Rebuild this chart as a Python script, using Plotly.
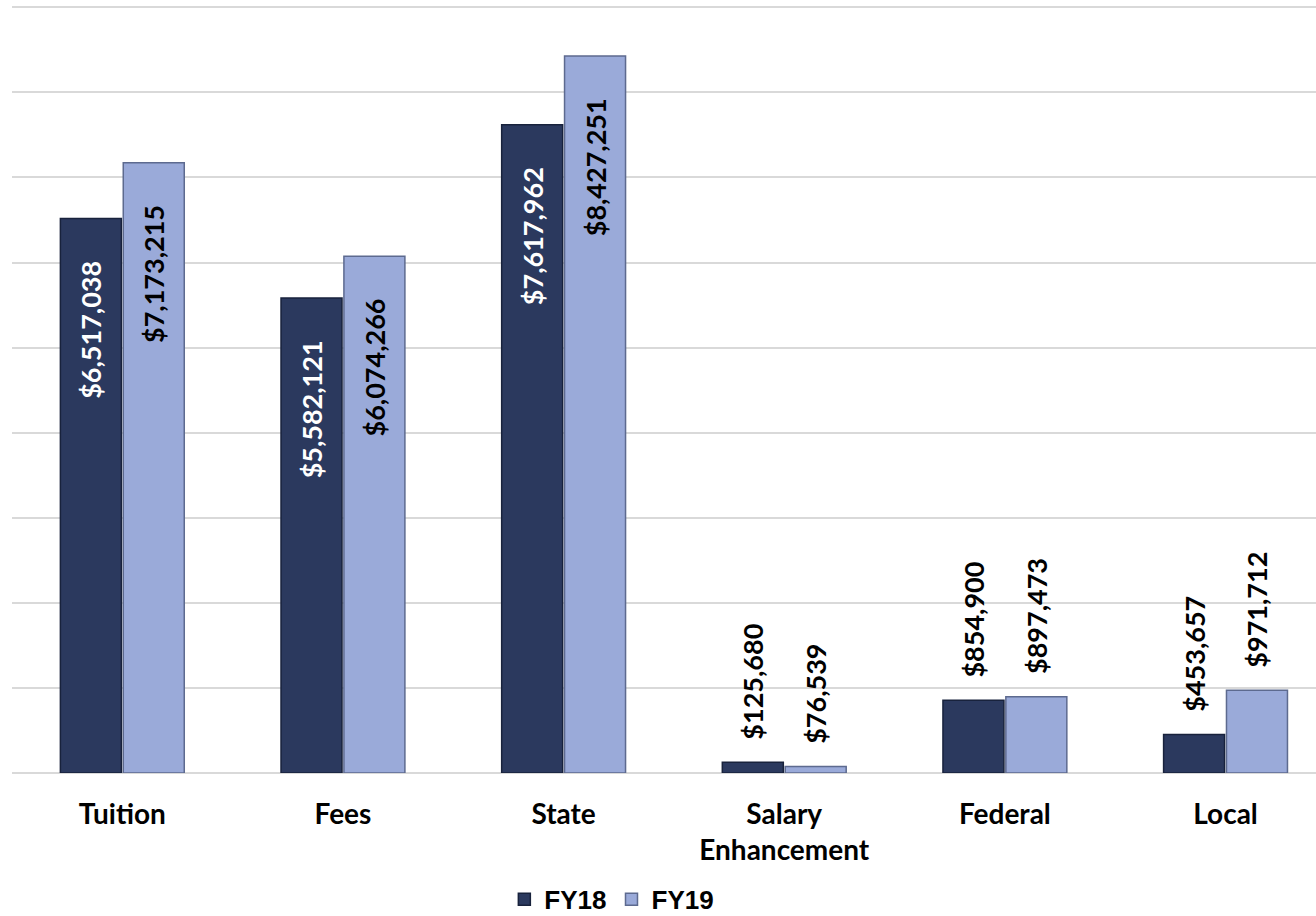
import plotly.graph_objects as go

categories = ["Tuition", "Fees", "State", "Salary<br>Enhancement", "Federal", "Local"]
fy18 = [6517038, 5582121, 7617962, 125680, 854900, 453657]
fy19 = [7173215, 6074266, 8427251, 76539, 897473, 971712]
series_names = ["FY18", "FY19"]

NB = "\u00a0"

def is_inside(v):
    return v > 3000000

def labels(vals):
    # padding with non-breaking spaces mimics Excel's label offsets
    return [f"${v:,}" + NB * 6 if is_inside(v) else NB * 3 + f"${v:,}" for v in vals]

def positions(vals):
    return ["inside" if is_inside(v) else "outside" for v in vals]

def fonts(vals, inside_color):
    return [inside_color if is_inside(v) else "black" for v in vals]

LABEL_FONT = "Lato"
LABEL_SIZE = 27
fig = go.Figure()
fig.add_trace(go.Bar(
    x=categories, y=fy18, name=series_names[0],
    marker=dict(color="#2b395e", line=dict(color="#18223c", width=1.5)),
    text=labels(fy18),
    textposition=positions(fy18), insidetextanchor="end", textangle=-90,
    textfont=dict(family=LABEL_FONT, size=LABEL_SIZE, color=fonts(fy18, "white"), weight="bold"),
    outsidetextfont=dict(family=LABEL_FONT, size=LABEL_SIZE, color="black", weight="bold"),
    cliponaxis=False,
))
fig.add_trace(go.Bar(
    x=categories, y=fy19, name=series_names[1],
    marker=dict(color="#9aaad9", line=dict(color="#5d6a8f", width=1.5)),
    text=labels(fy19),
    textposition=positions(fy19), insidetextanchor="end", textangle=-90,
    textfont=dict(family=LABEL_FONT, size=LABEL_SIZE, color=fonts(fy19, "black"), weight="bold"),
    outsidetextfont=dict(family=LABEL_FONT, size=LABEL_SIZE, color="black", weight="bold"),
    cliponaxis=False,
))

fig.update_layout(
    width=1316, height=916,
    margin=dict(l=12, r=0, t=3, b=143, autoexpand=False),
    paper_bgcolor="white", plot_bgcolor="white",
    barmode="group", bargap=0.43, bargroupgap=0.03,
    showlegend=True,
    legend=dict(orientation="h", x=0.46, xanchor="center", y=-0.164, yanchor="middle",
                font=dict(family="Liberation Sans Narrow, Liberation Sans", size=26, color="black", weight="bold"),
                itemwidth=30, tracegroupgap=0),
    xaxis=dict(range=[-0.5, 5.41], showgrid=False, showline=False, ticks="",
               tickfont=dict(family="Lato", size=28, color="black", weight="bold"),
               ticklabelstandoff=22),
    yaxis=dict(range=[0, 9050000], tick0=0, dtick=1000000, showgrid=True, gridcolor="#d9d9d9", gridwidth=2,
               showticklabels=False, zeroline=True, zerolinecolor="#d9d9d9", zerolinewidth=2, ticks=""),
    uniformtext=dict(minsize=LABEL_SIZE, mode="show"),
)

fig.write_html("out.html", config={"displayModeBar": False},
               post_script="document.body.style.margin='0';document.body.style.padding='0';")
